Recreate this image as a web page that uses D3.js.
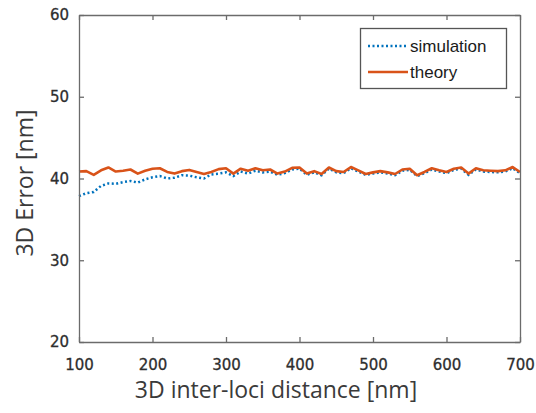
<!DOCTYPE html>
<html>
<head>
<meta charset="utf-8">
<script src="https://cdn.jsdelivr.net/npm/d3@7"></script>
<style>
  body { margin: 0; background: #fff; }
</style>
</head>
<body>
<script>
// distances (nm)
var distances = d3.range(100, 701, 10);

var simulation = [
  37.85, 38.2, 38.35, 39.1, 39.4, 39.35, 39.55, 39.7, 39.5, 39.9,
  40.15, 40.3, 40.0, 40.1, 40.4, 40.35, 40.15, 40.0, 40.5, 40.6,
  40.75, 40.3, 40.85, 40.6, 40.95, 40.75, 40.85, 40.45, 40.65, 41.1,
  41.2, 40.45, 40.75, 40.4, 41.2, 40.75, 40.65, 41.25, 40.85, 40.45,
  40.6, 40.75, 40.6, 40.4, 40.95, 41.05, 40.3, 40.65, 41.1, 40.85,
  40.65, 41.05, 41.2, 40.45, 41.1, 40.85, 40.8, 40.75, 40.85, 41.25,
  40.65
];

var theory = [
  40.85, 40.9, 40.45, 41.0, 41.35, 40.85, 40.95, 41.1, 40.6, 40.95,
  41.2, 41.25, 40.8, 40.6, 40.9, 41.05, 40.8, 40.55, 40.8, 41.15,
  41.25, 40.6, 41.2, 40.95, 41.25, 41.0, 41.1, 40.6, 40.85, 41.3,
  41.35, 40.6, 40.9, 40.55, 41.35, 40.9, 40.8, 41.4, 41.0, 40.55,
  40.75, 40.9, 40.75, 40.55, 41.1, 41.2, 40.4, 40.8, 41.25, 41.0,
  40.8, 41.2, 41.35, 40.6, 41.25, 41.0, 40.95, 40.9, 41.0, 41.4,
  40.8
];

var xTicks = [100, 200, 300, 400, 500, 600, 700];
var yTicks = [20, 30, 40, 50, 60];

var W = 536, H = 413;
var mLeft = 79, mRight = 520, mTop = 15, mBottom = 342;
var axisColor = "#6b6b6b";

var svg = d3.select("body").append("svg")
  .attr("width", W)
  .attr("height", H);

var x = d3.scaleLinear().domain([100, 700]).range([mLeft, mRight]);
var y = d3.scaleLinear().domain([20, 60]).range([mBottom, mTop]);

//lines
var line = d3.line()
  .x(function (d, i) { return x(distances[i]); })
  .y(function (d) { return y(d); });

svg.append("path")
  .datum(simulation)
  .attr("fill", "none")
  .attr("stroke", "#0072BD")
  .attr("stroke-width", 2.5)
  .attr("stroke-dasharray", "2,2.5")
  .attr("d", line);

svg.append("path")
  .datum(theory)
  .attr("fill", "none")
  .attr("stroke", "#D95319")
  .attr("stroke-width", 2.6)
  .attr("stroke-linejoin", "round")
  .attr("d", line);

//axes (ticks inside, box)
var tickFont = "'DejaVu Sans', sans-serif";

var gx = svg.append("g")
  .attr("transform", "translate(0," + mBottom + ")")
  .call(d3.axisBottom(x).tickValues(xTicks).tickSizeInner(-5).tickSizeOuter(0).tickPadding(17));
var gxTop = svg.append("g")
  .attr("transform", "translate(0," + mTop + ")")
  .call(d3.axisTop(x).tickValues(xTicks).tickSizeInner(-5).tickSizeOuter(0).tickFormat(""));
var gy = svg.append("g")
  .attr("transform", "translate(" + mLeft + ",0)")
  .call(d3.axisLeft(y).tickValues(yTicks).tickSizeInner(-5).tickSizeOuter(0).tickPadding(10));
var gyRight = svg.append("g")
  .attr("transform", "translate(" + mRight + ",0)")
  .call(d3.axisRight(y).tickValues(yTicks).tickSizeInner(-5).tickSizeOuter(0).tickFormat(""));

[gx, gxTop, gy, gyRight].forEach(function (g) {
  g.selectAll("path, line").attr("stroke", axisColor).attr("stroke-width", 1.3);
  g.selectAll("text")
    .attr("fill", "#2e2e2e")
    .attr("stroke", "#2e2e2e")
    .attr("stroke-width", 0.3)
    .style("font-family", tickFont)
    .style("font-size", "15px");
});

//axis labels
svg.append("text")
  .attr("x", 276)
  .attr("y", 398)
  .attr("text-anchor", "middle")
  .attr("fill", "#3a3a3a")
  .style("font-family", "'Open Sans', sans-serif")
  .style("font-size", "23px")
  .text("3D inter-loci distance [nm]");

svg.append("text")
  .attr("transform", "translate(33," + 183 + ") rotate(-90)")
  .attr("text-anchor", "middle")
  .attr("fill", "#3a3a3a")
  .style("font-family", "'Open Sans', sans-serif")
  .style("font-size", "23px")
  .text("3D Error [nm]");

//legend
var legend = svg.append("g");
legend.append("rect")
  .attr("x", 360.5).attr("y", 28.5)
  .attr("width", 146).attr("height", 60)
  .attr("fill", "#fff")
  .attr("stroke", "#555")
  .attr("stroke-width", 1.3);

var legendItems = [
  { name: "simulation", color: "#0072BD", dash: "2,2.5" },
  { name: "theory", color: "#D95319", dash: null }
];

legendItems.forEach(function (d, i) {
  var ly = 46 + i * 26;
  legend.append("line")
    .attr("x1", 368).attr("x2", 408)
    .attr("y1", ly).attr("y2", ly)
    .attr("stroke", d.color)
    .attr("stroke-width", 2.5)
    .attr("stroke-dasharray", d.dash);
  legend.append("text")
    .attr("x", 410).attr("y", ly)
    .attr("dy", "0.35em")
    .attr("fill", "#1a1a1a")
    .style("font-family", "'Liberation Sans', Arial, sans-serif")
    .style("font-size", "17px")
    .text(d.name);
});
</script>
</body>
</html>
